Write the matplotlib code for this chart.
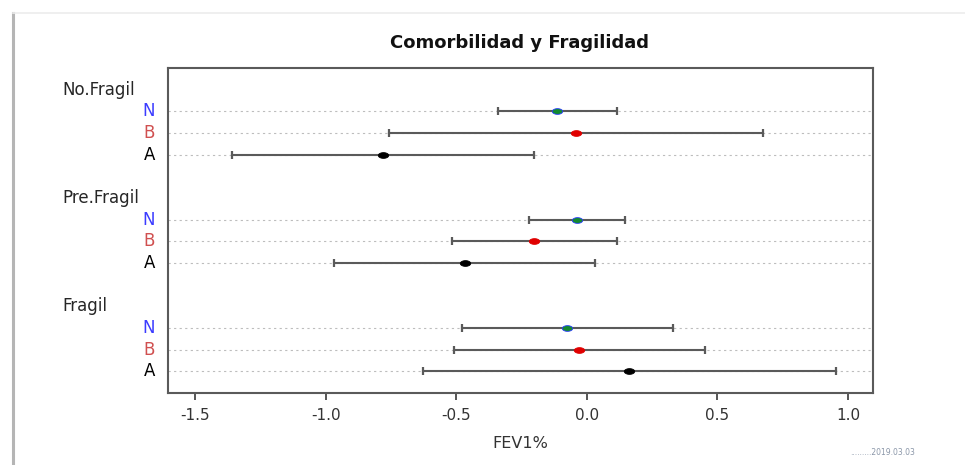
import matplotlib
matplotlib.use('Agg')
from matplotlib import pyplot as plt
from matplotlib.lines import Line2D
from matplotlib.transforms import blended_transform_factory
import numpy as np

# groups from bottom to top, rows inside each group from bottom to top
groups = ['Fragil', 'Pre.Fragil', 'No.Fragil']
rows = ['A', 'B', 'N']

# estimates (FEV1%) and confidence limits, one list per group in row order A, B, N
est_fragil = [0.163, -0.031, -0.078]
low_fragil = [-0.630, -0.510, -0.479]
high_fragil = [0.954, 0.453, 0.328]

est_pre = [-0.467, -0.203, -0.037]
low_pre = [-0.968, -0.518, -0.222]
high_pre = [0.032, 0.115, 0.146]

est_no = [-0.780, -0.041, -0.114]
low_no = [-1.359, -0.760, -0.342]
high_no = [-0.202, 0.673, 0.115]

xticks = [-1.5, -1.0, -0.5, 0.0, 0.5, 1.0]

label_colors = {'A': 'black', 'B': '#d05050', 'N': '#3c3cff'}
point_face = {'A': 'black', 'B': '#e00000', 'N': '#138a30'}
point_edge = {'A': 'black', 'B': '#e00000', 'N': '#2a3cff'}

# wide ellipse marker (the original picture is stretched horizontally)
t = np.linspace(0, 2 * np.pi, 40)
ellipse = list(zip(1.0 * np.cos(t), 0.55 * np.sin(t)))

fig = plt.figure(figsize=(9.65, 4.65), dpi=100)
ax = fig.add_axes([0.1741, 0.1548, 0.7306, 0.699])

est = [est_fragil, est_pre, est_no]
low = [low_fragil, low_pre, low_no]
high = [high_fragil, high_pre, high_no]

lab_tr = blended_transform_factory(fig.transFigure, ax.transData)
pos = 1
for g in range(len(groups)):
    for r in range(len(rows)):
        name = rows[r]
        ax.axhline(pos, color='#bdbdbd', lw=0.8, ls=(0, (2, 3)), zorder=1)
        ax.plot([low[g][r], high[g][r]], [pos, pos], color='#5a5a5a', lw=1.5, zorder=2)
        ax.plot([low[g][r], high[g][r]], [pos, pos], ls='none', marker='|',
                markersize=6, mew=1.6, color='#5a5a5a', zorder=2)
        ax.plot(est[g][r], pos, ls='none', marker=ellipse, markersize=7.5,
                mfc=point_face[name], mec=point_edge[name], mew=0.6, zorder=3)
        ax.text(155 / 965, pos, name, transform=lab_tr, ha='right', va='center',
                fontsize=12, color=label_colors[name])
        pos += 1
    ax.text(62 / 965, pos, groups[g], transform=lab_tr, ha='left', va='center',
            fontsize=12, color='#262626')
    pos += 2

ax.set_ylim(0, 15)
ax.set_xlim(-1.605, 1.096)
ax.set_yticks([])
ax.set_xticks(xticks)
ax.set_xticklabels(['%.1f' % v for v in xticks], fontsize=11, color='#333333')
ax.tick_params(axis='x', length=5, width=1.4, color='#555555', pad=6)
for s in ax.spines.values():
    s.set_color('#5a5a5a')
    s.set_linewidth(1.5)

ax.set_xlabel('FEV1%', fontsize=11.5, color='#333333', labelpad=9)
fig.text(520 / 965, 1 - 43 / 465, 'Comorbilidad y Fragilidad', ha='center', va='center',
         fontsize=13, fontweight='bold', color='#111111')

# screenshot frame and faint date stamp
fig.add_artist(Line2D([13 / 965, 13 / 965], [0, 1 - 13 / 465], color='#b5b5b5', lw=2.2))
fig.add_artist(Line2D([13 / 965, 1], [1 - 13 / 465, 1 - 13 / 465], color='#ececec', lw=1.2))
fig.text(915 / 965, 1 - 452 / 465, '.........2019.03.03', ha='right', va='center',
         fontsize=5.5, color='#8a96a8')

fig.savefig('out.png', dpi=100)
